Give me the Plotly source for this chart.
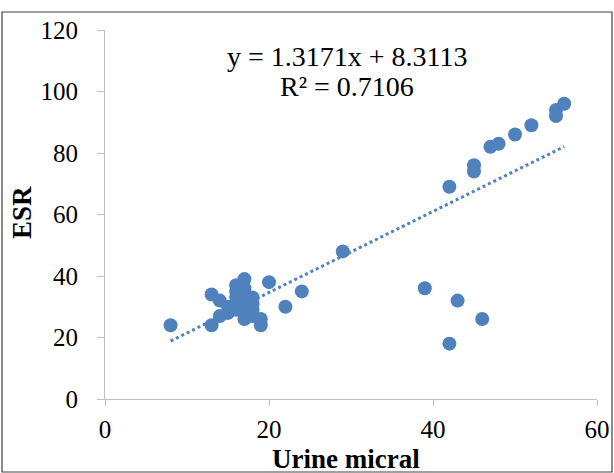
import plotly.graph_objects as go

urine = [8, 13, 13, 14, 14, 15, 15, 16, 16, 16, 16, 16, 17, 17, 17, 17, 17, 17, 17,
         18, 18, 18, 18, 19, 19, 20, 22, 24, 29, 39, 42, 43, 46, 42, 45, 45, 47, 48,
         50, 52, 55, 55, 56]
esr = [24, 34, 24, 27, 32, 28, 30, 29, 31, 33, 35, 37, 39, 36, 34, 32, 30, 28, 26,
       27, 29, 31, 33, 24, 26, 38, 30, 35, 48, 36, 18, 32, 26, 69, 74, 76, 82, 83,
       86, 89, 92, 94, 96]

slope = 1.3171
intercept = 8.3113
r2 = 0.7106
trend_x = [min(urine), max(urine)]
trend_y = [slope * v + intercept for v in trend_x]

x_ticks = [0, 20, 40, 60]
y_ticks = [0, 20, 40, 60, 80, 100, 120]

blue = "#4F81BD"
font = "Liberation Serif"

L, R, T, B = 105, 597, 30, 399
W, H = 614, 473
pw, ph = R - L, B - T

fig = go.Figure()
fig.add_trace(go.Scatter(x=trend_x, y=trend_y, mode="lines",
                         line=dict(color=blue, width=3, dash="dot"), hoverinfo="skip"))
fig.add_trace(go.Scatter(x=urine, y=esr, mode="markers",
                         marker=dict(color=blue, size=14, line=dict(width=0))))

fig.update_layout(
    width=W, height=H,
    margin=dict(l=L, r=W - R, t=T, b=H - B, autoexpand=False),
    plot_bgcolor="white", paper_bgcolor="white",
    showlegend=False,
    font=dict(family=font, size=25, color="black"),
    xaxis=dict(range=[0, 60], tickvals=x_ticks, showline=True, linecolor="#BFBFBF",
               linewidth=1, ticks="outside", tickcolor="#BFBFBF", ticklen=6,
               showgrid=False, zeroline=False, ticklabelstandoff=2,
               tickfont=dict(family=font, size=25)),
    yaxis=dict(range=[0, 120], tickvals=y_ticks, showline=True, linecolor="#BFBFBF",
               linewidth=1, ticks="outside", tickcolor="#BFBFBF", ticklen=7,
               showgrid=False, zeroline=False, ticklabelstandoff=14,
               tickfont=dict(family=font, size=25)),
)

def px_x(p):
    return (p - L) / pw

def px_y(p):
    return (B - p) / ph

fig.add_annotation(xref="paper", yref="paper", x=px_x(347), y=px_y(56),
                   text=f"y = {slope}x + {intercept}", showarrow=False,
                   font=dict(family=font, size=28), xanchor="center", yanchor="middle")
fig.add_annotation(xref="paper", yref="paper", x=px_x(347), y=px_y(86),
                   text=f"R² = {r2}", showarrow=False,
                   font=dict(family=font, size=28), xanchor="center", yanchor="middle")
fig.add_annotation(xref="paper", yref="paper", x=px_x(346), y=px_y(459),
                   text="<b>Urine micral</b>", showarrow=False,
                   font=dict(family=font, size=27), xanchor="center", yanchor="middle")
fig.add_annotation(xref="paper", yref="paper", x=px_x(22), y=px_y(213),
                   text="<b>ESR</b>", showarrow=False, textangle=-90,
                   font=dict(family=font, size=27), xanchor="center", yanchor="middle")

fig.add_shape(type="rect", xref="paper", yref="paper",
              x0=px_x(2), x1=px_x(612), y0=px_y(472), y1=px_y(12),
              line=dict(color="#404040", width=1.2), fillcolor="rgba(0,0,0,0)", layer="below")

fig.write_html("out.html", config={"displayModeBar": False},
               post_script="document.body.style.margin='0';")
